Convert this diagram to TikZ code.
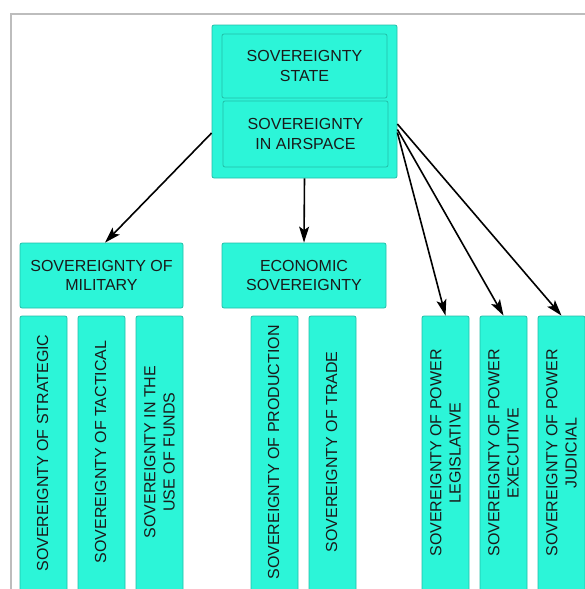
\documentclass[tikz,border=0pt]{standalone}
\usepackage{fontspec}
\setmainfont{Liberation Sans}
\usetikzlibrary{arrows.meta}
\definecolor{tq}{HTML}{2CF5D8}
\definecolor{tqb}{HTML}{22BFA8}
\definecolor{frm}{HTML}{BDBDBD}
\definecolor{txt}{HTML}{1A1A1A}
\begin{document}
\begin{tikzpicture}[x=1pt,y=-1pt,
  font=\fontsize{16}{19.3}\selectfont, text=txt,
  box/.style={draw=tqb, fill=tq, line width=0.8pt, rounded corners=2pt, inner sep=0pt, align=center},
  vbox/.style={box, minimum width=47pt, minimum height=280pt},
  arr/.style={line width=1.6pt, -{Stealth[length=16pt,width=10pt,inset=3.5pt]}},
  vtext/.style={rotate=90, align=center, inner sep=0pt}]
\useasboundingbox (0,0) rectangle (585,589);
\draw[frm, line width=1.2pt] (11,600) -- (11,14) -- (600,14);
% top block
\node[box, minimum width=185pt, minimum height=153pt] (main) at (304.5,101.5) {};
\node[box, minimum width=165pt, minimum height=64pt] (state) at (304.5,66) {SOVEREIGNTY\\STATE};
\node[box, minimum width=165pt, minimum height=66pt] (air) at (305.5,134) {SOVEREIGNTY\\IN AIRSPACE};
% second row
\node[box, minimum width=163pt, minimum height=65pt] (mil) at (101.5,275.5) {SOVEREIGNTY OF\\MILITARY};
\node[box, minimum width=164pt, minimum height=65pt] (eco) at (304,275.5) {ECONOMIC\\SOVEREIGNTY};
% vertical boxes
\node[vbox] (strat) at (43.5,456) {};
\node[vtext] (stratt) at (42.5,453) {SOVEREIGNTY OF STRATEGIC};
\node[vbox] (tact) at (101.5,456) {};
\node[vtext] (tactt) at (100.5,452) {SOVEREIGNTY OF TACTICAL};
\node[vbox] (funds) at (159.5,456) {};
\node[vtext] (fundst) at (159.5,452) {SOVEREIGNTY IN THE\\USE OF FUNDS};
\node[vbox] (prod) at (274.5,456) {};
\node[vtext] (prodt) at (273.5,452.5) {SOVEREIGNTY OF PRODUCTION};
\node[vbox] (trade) at (332.5,456) {};
\node[vtext] (tradet) at (331.5,452) {SOVEREIGNTY OF TRADE};
\node[vbox] (leg) at (445.5,456) {};
\node[vtext] (legt) at (445.5,453) {SOVEREIGNTY OF POWER\\LEGISLATIVE};
\node[vbox] (exec) at (503.5,456) {};
\node[vtext] (exect) at (503.5,453) {SOVEREIGNTY OF POWER\\EXECUTIVE};
\node[vbox] (jud) at (561.5,456) {};
\node[vtext] (judt) at (561.5,453) {SOVEREIGNTY OF POWER\\JUDICIAL};
% arrows
\draw[arr] ([yshift=-31.5pt]main.west) -- ([xshift=3.5pt]mil.north);
\draw[arr] (main.south) -- (eco.north);
\draw[arr] ([yshift=-31pt]main.east) -- (leg.north);
\draw[arr] ([yshift=-28pt]main.east) -- (exec.north);
\draw[arr] ([yshift=-22.5pt]main.east) -- (jud.north);
\end{tikzpicture}
\end{document}
